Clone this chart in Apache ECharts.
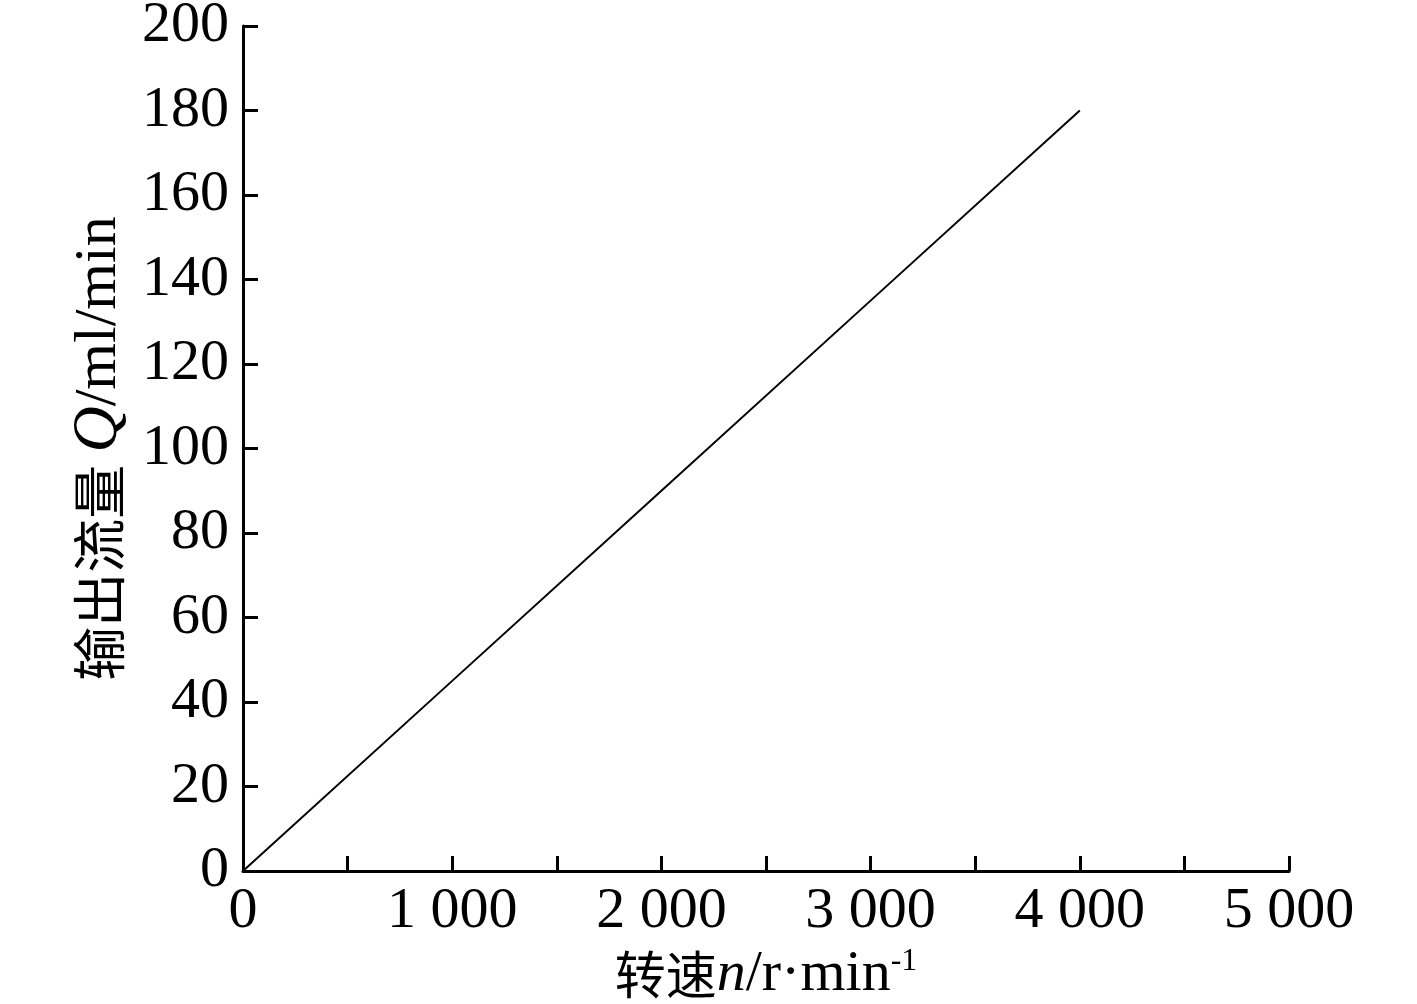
<!DOCTYPE html>
<html><head><meta charset="utf-8">
<script src="https://cdn.jsdelivr.net/npm/echarts@6/dist/echarts.min.js"></script>
<style>html,body{margin:0;padding:0;background:#fff}#c{width:1417px;height:1004px}</style>
</head><body><div id="c"></div>
<script>
const speed = [0, 1000, 2000, 3000, 4000];
const flow = [0, 45, 90, 135, 180];
const xTicks = [0, 1000, 2000, 3000, 4000, 5000];
const yTicks = [0, 20, 40, 60, 80, 100, 120, 140, 160, 180, 200];

const serif = '"Liberation Serif", "Times New Roman", serif';
const cjk = '"Noto Sans CJK SC", sans-serif';
function fmtThousands(v){
  const s = String(v);
  return s.length > 3 ? s.slice(0, s.length-3) + ' ' + s.slice(-3) : s;
}
const chart = echarts.init(document.getElementById('c'));
chart.setOption({
  animation: false,
  grid: {left: 243, top: 26, right: 128, bottom: 133, containLabel: false, outerBoundsMode: 'none'},
  xAxis: {
    type: 'value', min: 0, max: 5000, interval: 500,
    axisLine: {show: true, lineStyle: {color: '#000', width: 3}},
    axisTick: {show: true, inside: true, length: 15, lineStyle: {color: '#000', width: 3}},
    splitLine: {show: false},
    axisLabel: {
      color: '#000', fontFamily: serif, fontSize: 58, margin: 12,
      formatter: v => xTicks.includes(v) ? fmtThousands(v) : ''
    },
    name: '{c|转速}{i|n}{s|/r·min}{sup|-1}',
    nameLocation: 'middle', nameGap: 70,
    nameTextStyle: {
      rich: {
        c: {fontFamily: cjk, fontSize: 51, color: '#000'},
        i: {fontFamily: serif, fontStyle: 'italic', fontSize: 58, color: '#000'},
        s: {fontFamily: serif, fontSize: 58, color: '#000'},
        sup: {fontFamily: serif, fontSize: 32, color: '#000', verticalAlign: 'top', padding: [0,0,24,0]}
      }
    }
  },
  yAxis: {
    type: 'value', min: 0, max: 200, interval: 20,
    axisLine: {show: true, lineStyle: {color: '#000', width: 3}},
    axisTick: {show: true, inside: true, length: 15, lineStyle: {color: '#000', width: 3}},
    splitLine: {show: false},
    axisLabel: {
      color: '#000', fontFamily: serif, fontSize: 58, margin: 14,
      formatter: v => yTicks.includes(v) ? String(v) : ''
    },
    name: '{c|输出流量 }{i|Q}{s|/ml/min}',
    nameLocation: 'middle', nameGap: 106, nameRotate: 90,
    nameTextStyle: {
      rich: {
        c: {fontFamily: cjk, fontSize: 54, color: '#000'},
        i: {fontFamily: serif, fontStyle: 'italic', fontSize: 64, color: '#000'},
        s: {fontFamily: serif, fontSize: 60, color: '#000'}
      }
    }
  },
  series: [{
    type: 'line',
    data: speed.map((x, i) => [x, flow[i]]),
    showSymbol: false,
    lineStyle: {color: '#000', width: 2}
  }]
});
</script>
</body></html>
